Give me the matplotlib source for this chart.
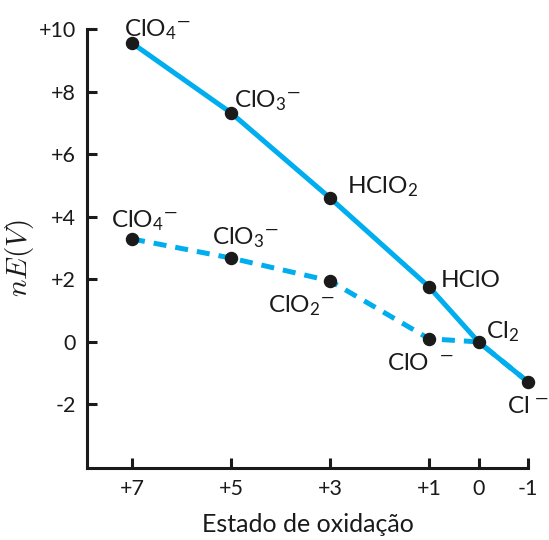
import matplotlib
matplotlib.use("Agg")
import matplotlib.pyplot as plt

plt.rcParams["font.family"] = ["Lato", "DejaVu Sans"]
plt.rcParams["mathtext.fontset"] = "custom"
plt.rcParams["mathtext.rm"] = "Lato"
plt.rcParams["mathtext.it"] = "Lato:italic"

# Frost diagram for chlorine
ox_states = [7, 5, 3, 1, 0, -1]
acid_nE = [9.55, 7.32, 4.60, 1.76, 0.0, -1.28]
basic_nE = [3.29, 2.68, 1.95, 0.10, 0.0, -1.28]

acid_labels = [r"ClO$_4$$^{—}$", r"ClO$_3$$^{—}$", r"HClO$_2$", "HClO", r"Cl$_2$", r"Cl$\;{}^{—}$"]
basic_labels = [r"ClO$_4$$^{—}$", r"ClO$_3$$^{—}$", r"ClO$_2$$^{—}$", r"ClO$\;\;{}^{—}$"]

# label offsets in pixels (left edge / baseline relative to the point)
acid_off = [(-8, 7), (3, 5), (17, 5), (12, 0), (7, 4), (-21, -31)]
basic_off = [(-21, 12), (-19, 14), (-62, -32), (-42, -31)]

xticks = [7, 5, 3, 1, 0, -1]
xtick_labels = ["+7", "+5", "+3", "+1", "0", "-1"]
yticks = [-2, 0, 2, 4, 6, 8, 10]
ytick_labels = ["-2", "0", "+2", "+4", "+6", "+8", "+10"]

blue = "#00AEEF"
ink = "#1a1a1a"

fig = plt.figure(figsize=(5.49, 5.4), dpi=100)
ax = fig.add_axes([87 / 549, 1 - 468 / 540, (528 - 87) / 549, (468 - 29) / 540])

ax.plot(ox_states, basic_nE, color=blue, lw=3.6, ls=(0, (2.6, 1.8)), zorder=2,
        dash_capstyle="butt")
ax.plot(ox_states, acid_nE, color=blue, lw=3.6, zorder=3)
ax.scatter(ox_states, acid_nE, s=75, color=ink, zorder=4, clip_on=False)
ax.scatter(ox_states[:4], basic_nE[:4], s=75, color=ink, zorder=4, clip_on=False)

for x, y, lab, off in zip(ox_states, acid_nE, acid_labels, acid_off):
    ax.annotate(lab, (x, y), xytext=off, textcoords="offset pixels",
                ha="left", va="baseline", fontsize=17.5, color=ink)
for x, y, lab, off in zip(ox_states, basic_nE, basic_labels, basic_off):
    ax.annotate(lab, (x, y), xytext=off, textcoords="offset pixels",
                ha="left", va="baseline", fontsize=17.5, color=ink)

ax.set_xlim(7.91, -1)
ax.set_ylim(-4.03, 10)
ax.set_xticks(xticks)
ax.set_xticklabels(xtick_labels)
ax.set_yticks(yticks)
ax.set_yticklabels(ytick_labels)

for side in ["top", "right"]:
    ax.spines[side].set_visible(False)
for side in ["left", "bottom"]:
    ax.spines[side].set_linewidth(2.2)
    ax.spines[side].set_color(ink)

ax.tick_params(direction="in", length=7, width=2.2, labelsize=15.5, colors=ink, pad=8)

ax.set_xlabel("Estado de oxidação", fontsize=18, color=ink, labelpad=10)
ax.set_ylabel(r"$nE(V)$", fontsize=21, math_fontfamily="cm", color=ink)
ax.yaxis.set_label_coords(-0.116, 0.478)

fig.savefig("out.png", dpi=100)
